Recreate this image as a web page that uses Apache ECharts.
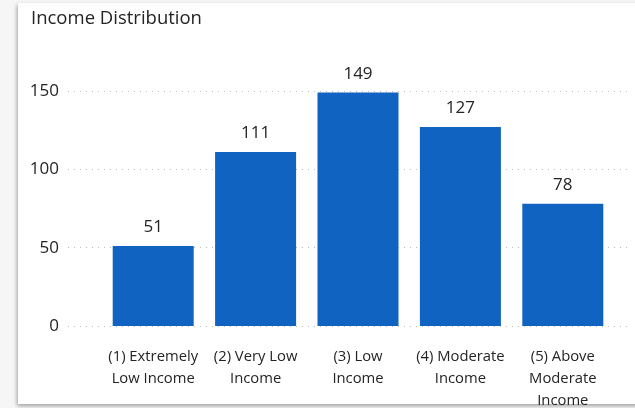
<!DOCTYPE html>
<html>
<head>
<meta charset="utf-8">
<script src="https://cdn.jsdelivr.net/npm/echarts@6/dist/echarts.min.js"></script>
<style>
  html, body { margin: 0; padding: 0; background: #f6f6f6; }
  #card { position: absolute; left: 18px; top: 3px; width: 640px; height: 401px; background: #fff;
          box-shadow: -1px 2px 4px rgba(0,0,0,0.35); }
  #chart { position: absolute; left: 0; top: 0; width: 635px; height: 408px; }
</style>
</head>
<body>
<div id="card"></div>
<div id="chart"></div>
<script>
const title = "Income Distribution";
const categories = ["(1) Extremely Low Income", "(2) Very Low Income", "(3) Low Income", "(4) Moderate Income", "(5) Above Moderate Income"];
const tickLabels = ["(1) Extremely\nLow Income", "(2) Very Low\nIncome", "(3) Low\nIncome", "(4) Moderate\nIncome", "(5) Above\nModerate\nIncome"];
const values = [51, 111, 149, 127, 78];
const yTicks = [0, 50, 100, 150];

const font = "'Open Sans', 'Noto Sans', sans-serif";
const chart = echarts.init(document.getElementById('chart'), null, { renderer: 'canvas' });
chart.setOption({
  animation: false,
  title: { text: title, left: 26, top: 4, textStyle: { fontFamily: font, fontSize: 18.5, fontWeight: 'normal', color: '#252423' } },
  grid: [
    { left: 68, right: 3, top: 91, bottom: 82, outerBoundsMode: 'none', containLabel: false },
    { left: 102, width: 512, top: 91, bottom: 82, outerBoundsMode: 'none', containLabel: false }
  ],
  xAxis: [
    { type: 'category', gridIndex: 0, data: [''], show: false },
    { type: 'category', gridIndex: 1, data: categories,
      axisLine: { show: false }, axisTick: { show: false },
      axisLabel: { interval: 0, margin: 20, lineHeight: 22, color: '#252423', fontFamily: font, fontSize: 14.8,
        formatter: (v, i) => tickLabels[i] } }
  ],
  yAxis: [
    { type: 'value', gridIndex: 0, min: yTicks[0], max: yTicks[yTicks.length - 1], interval: 50,
      axisLine: { show: false }, axisTick: { show: false },
      axisLabel: { margin: 9, color: '#252423', fontFamily: font, fontSize: 17 },
      splitLine: { lineStyle: { type: [1, 5], color: '#bbbbbb', width: 1 } } },
    { type: 'value', gridIndex: 1, min: yTicks[0], max: yTicks[yTicks.length - 1], interval: 50, show: false }
  ],
  series: [{
    type: 'bar', xAxisIndex: 1, yAxisIndex: 1, data: values, barWidth: 81,
    itemStyle: { color: '#1063C1' },
    label: { show: true, position: 'top', distance: 10, color: '#252423', fontFamily: font, fontSize: 17 }
  }]
});
</script>
</body>
</html>
